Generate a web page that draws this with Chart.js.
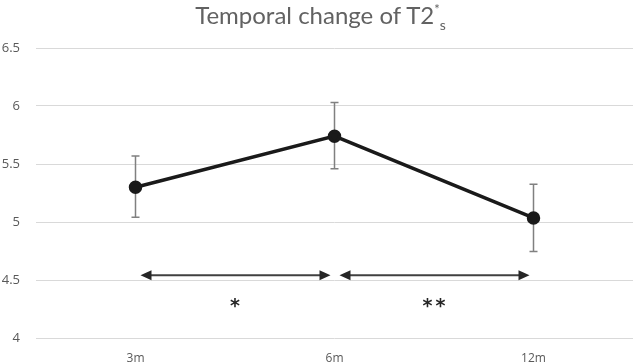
<!DOCTYPE html>
<html lang="en">
<head>
<meta charset="UTF-8">
<title>Temporal change of T2*s</title>
<script src="https://cdn.jsdelivr.net/npm/chart.js"></script>
<style>
  html, body { margin: 0; padding: 0; background: #fff; }
  #wrap { position: relative; width: 633px; height: 364px; }
  #title {
    position: absolute; left: 0; right: 0; top: 0px;
    text-align: center; font-family: Lato, sans-serif; font-weight: 400;
    font-size: 24px; color: #626262; white-space: nowrap; padding-left: 8px;
  }
  #title sup { font-size: 13px; vertical-align: 10px; }
  #title sub { font-size: 14px; vertical-align: -6px; }
  canvas { position: absolute; left: 0; top: 0; }
</style>
</head>
<body>
<div id="wrap">
  <canvas id="chart" width="633" height="364"></canvas>
  <div id="title">Temporal change of T2<sup>*</sup><sub>s</sub></div>
</div>
<script>
// data
const categories = ['3m', '6m', '12m'];
const means = [5.30, 5.74, 5.035];
const errUp = [0.27, 0.29, 0.29];
const errDown = [0.26, 0.28, 0.29];
const yTicks = [4, 4.5, 5, 5.5, 6, 6.5];
// significance brackets: from index, to index, label
const compFrom = [0, 1];
const compTo = [1, 2];
const compLabel = ['*', '**'];
const arrowLevel = 4.54;
const starLevel = 4.31;

const extras = {
  id: 'extras',
  beforeDatasetsDraw(chart) {
    const ctx = chart.ctx, x = chart.scales.x, y = chart.scales.y;
    ctx.save();
    ctx.strokeStyle = '#808080';
    ctx.lineWidth = 1.5;
    means.forEach((m, i) => {
      const px = x.getPixelForValue(i);
      const top = y.getPixelForValue(m + errUp[i]);
      const bot = y.getPixelForValue(m - errDown[i]);
      ctx.beginPath();
      ctx.moveTo(px, top); ctx.lineTo(px, bot);
      ctx.moveTo(px - 4, top); ctx.lineTo(px + 4, top);
      ctx.moveTo(px - 4, bot); ctx.lineTo(px + 4, bot);
      ctx.stroke();
    });
    ctx.restore();
  },
  afterDatasetsDraw(chart) {
    const ctx = chart.ctx, x = chart.scales.x, y = chart.scales.y;
    ctx.save();
    const ay = y.getPixelForValue(arrowLevel);
    const sy = y.getPixelForValue(starLevel);
    compFrom.forEach((f, k) => {
      const x1 = x.getPixelForValue(f) + 5;
      const x2 = x.getPixelForValue(compTo[k]) - 4;
      ctx.strokeStyle = '#404040';
      ctx.fillStyle = '#262626';
      ctx.lineWidth = 2;
      ctx.beginPath();
      ctx.moveTo(x1 + 8, ay); ctx.lineTo(x2 - 8, ay);
      ctx.stroke();
      ctx.beginPath();
      ctx.moveTo(x1, ay); ctx.lineTo(x1 + 11, ay - 5); ctx.lineTo(x1 + 11, ay + 5); ctx.closePath();
      ctx.fill();
      ctx.beginPath();
      ctx.moveTo(x2, ay); ctx.lineTo(x2 - 11, ay - 5); ctx.lineTo(x2 - 11, ay + 5); ctx.closePath();
      ctx.fill();
      ctx.font = 'bold 19px "DejaVu Sans", sans-serif';
      ctx.letterSpacing = '3px';
      ctx.textAlign = 'center';
      ctx.textBaseline = 'middle';
      ctx.fillText(compLabel[k], (x1 + x2) / 2 + 1, sy + 5);
    });
    ctx.restore();
  }
};

function draw() {
  new Chart(document.getElementById('chart'), {
    type: 'line',
    data: {
      labels: categories,
      datasets: [{
        data: means,
        borderColor: '#1a1a1a',
        backgroundColor: '#1a1a1a',
        borderWidth: 3.5,
        pointRadius: 5,
        pointHoverRadius: 5,
        tension: 0
      }]
    },
    options: {
      responsive: false,
      animation: false,
      layout: { autoPadding: false, padding: { top: 48, right: 0, left: 0, bottom: 0 } },
      plugins: { legend: { display: false }, tooltip: { enabled: false }, title: { display: false } },
      scales: {
        x: {
          offset: true,
          grid: { display: false, drawTicks: false },
          border: { display: false },
          afterFit: s => { s.height = 26; },
          ticks: { color: '#595959', font: { family: 'Open Sans', size: 12 }, padding: 13 }
        },
        y: {
          min: 4, max: 6.5,
          afterBuildTicks: s => { s.ticks = yTicks.map(v => ({ value: v })); },
          afterFit: s => { s.width = 36; },
          grid: { color: '#d9d9d9', lineWidth: 1, drawTicks: false },
          border: { display: false },
          ticks: { color: '#595959', font: { family: 'Open Sans', size: 13 }, padding: 16, callback: v => String(v) }
        }
      }
    },
    plugins: [extras]
  });
}

Promise.all([
  document.fonts.load('13px "Open Sans"'),
  document.fonts.load('bold 19px "DejaVu Sans"')
]).then(draw, draw);
</script>
</body>
</html>
